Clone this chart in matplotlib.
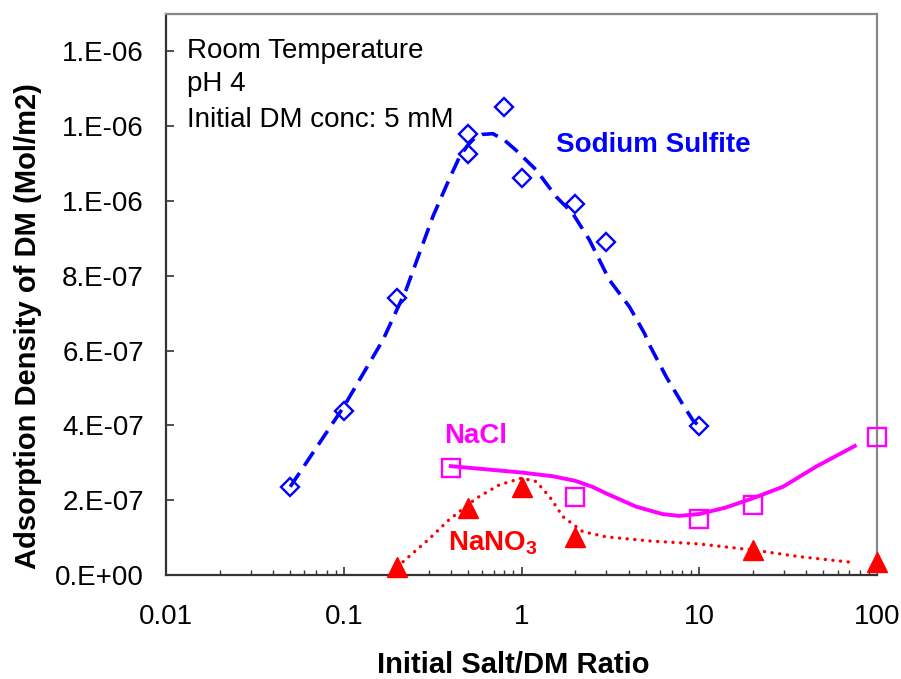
import matplotlib
matplotlib.use('Agg')
import matplotlib.pyplot as plt
import numpy as np
from matplotlib.ticker import FixedLocator, NullFormatter, LogLocator

plt.rcParams['font.family'] = ['Liberation Sans', 'DejaVu Sans']
plt.rcParams['mathtext.fontset'] = 'custom'
plt.rcParams['mathtext.rm'] = 'Liberation Sans'
plt.rcParams['mathtext.bf'] = 'Liberation Sans:bold'

# measured points
sulfite_x = [0.05, 0.1, 0.2, 0.5, 0.5, 0.8, 1, 2, 3, 10]
sulfite_y = [0.236e-6, 0.439e-6, 0.741e-6, 1.178e-6, 1.126e-6, 1.252e-6,
             1.062e-6, 0.992e-6, 0.890e-6, 0.398e-6]
nacl_x = [0.4, 2, 10, 20, 100]
nacl_y = [0.286e-6, 0.209e-6, 0.149e-6, 0.187e-6, 0.368e-6]
nano3_x = [0.2, 0.5, 1, 2, 20, 100]
nano3_y = [0.022e-6, 0.179e-6, 0.236e-6, 0.102e-6, 0.067e-6, 0.036e-6]

# trend lines
sulfite_fit_x = [0.05, 0.1, 0.166, 0.224, 0.317, 0.39, 0.448, 0.5, 0.544,
                 0.6, 0.69, 0.8, 0.93, 1.21, 1.57, 1.94, 2.41, 3.12, 4.05,
                 4.92, 5.25, 6.52, 8.1, 9.2, 10]
sulfite_fit_y = [0.236e-6, 0.45e-6, 0.628e-6, 0.762e-6, 0.958e-6, 1.056e-6,
                 1.118e-6, 1.150e-6, 1.168e-6, 1.178e-6, 1.180e-6, 1.163e-6,
                 1.136e-6, 1.083e-6, 1.011e-6, 0.967e-6, 0.896e-6, 0.789e-6,
                 0.717e-6, 0.646e-6, 0.615e-6, 0.530e-6, 0.455e-6, 0.414e-6,
                 0.398e-6]
nacl_fit_x = [0.4, 1, 1.5, 2, 2.5, 3, 4.4, 6.2, 7.7, 10, 14, 20, 29.6,
              45.5, 75]
nacl_fit_y = [0.291e-6, 0.274e-6, 0.264e-6, 0.252e-6, 0.236e-6, 0.218e-6,
              0.183e-6, 0.163e-6, 0.158e-6, 0.163e-6, 0.180e-6, 0.205e-6,
              0.236e-6, 0.290e-6, 0.345e-6]
nano3_fit_x = [0.2, 0.3, 0.39, 0.556, 0.75, 1, 1.21, 1.44, 1.71, 2.21, 3,
               5.25, 10, 20, 36.7, 75]
nano3_fit_y = [0.022e-6, 0.095e-6, 0.147e-6, 0.205e-6, 0.241e-6, 0.259e-6,
               0.250e-6, 0.209e-6, 0.156e-6, 0.116e-6, 0.102e-6, 0.091e-6,
               0.083e-6, 0.067e-6, 0.049e-6, 0.033e-6]

yticks = [0, 0.2e-6, 0.4e-6, 0.6e-6, 0.8e-6, 1.0e-6, 1.2e-6, 1.4e-6]
ytick_labels = ['0.E+00', '2.E-07', '4.E-07', '6.E-07', '8.E-07',
                '1.E-06', '1.E-06', '1.E-06']
xticks = [0.01, 0.1, 1, 10, 100]
xtick_labels = ['0.01', '0.1', '1', '10', '100']

W, H = 901, 679
fig = plt.figure(figsize=(W/100., H/100.), dpi=100)
ax = fig.add_axes([166./W, 1-575./H, (877.-166.)/W, (575.-14.)/H])

blue = '#0000FF'
mag = '#FF00FF'
red = '#FF0000'

ax.plot(sulfite_fit_x, sulfite_fit_y, color=blue, lw=2.6,
        linestyle=(0, (4.6, 2.4)), zorder=2)
ax.plot(nacl_fit_x, nacl_fit_y, color=mag, lw=2.8, zorder=2)
ax.plot(nano3_fit_x, nano3_fit_y, color=red, lw=2.4,
        linestyle=(0, (0.05, 2.25)), dash_capstyle='round', zorder=2)

ax.plot(sulfite_x, sulfite_y, 'D', ms=9.5, mfc='none', mec=blue, mew=1.7,
        zorder=3, clip_on=False)
ax.plot(nacl_x, nacl_y, 's', ms=13, mfc='none', mec=mag, mew=1.7, zorder=3,
        clip_on=False)
ax.plot(nano3_x, nano3_y, '^', ms=14, color=red, zorder=3, clip_on=False)

ax.set_xscale('log')
ax.set_xlim(0.01, 100)
ax.set_ylim(0, 1.5e-6)
ax.xaxis.set_major_locator(FixedLocator(xticks))
ax.set_xticklabels(xtick_labels)
ax.xaxis.set_minor_locator(LogLocator(base=10, subs=np.arange(2, 10)))
ax.xaxis.set_minor_formatter(NullFormatter())
ax.yaxis.set_major_locator(FixedLocator(yticks))
ax.set_yticklabels(ytick_labels)

ax.tick_params(axis='both', which='major', direction='in', length=6,
               width=1.2, color='#333333', labelsize=20)
ax.tick_params(axis='x', which='minor', direction='in', length=3.6,
               width=1.0, color='#333333')
ax.tick_params(axis='x', which='major', pad=21)
ax.tick_params(axis='y', which='major', pad=16)

for s in ['left', 'bottom']:
    ax.spines[s].set_color('#333333')
    ax.spines[s].set_linewidth(1.6)
for s in ['top', 'right']:
    ax.spines[s].set_color('#888888')
    ax.spines[s].set_linewidth(1.6)

fig.text(28./W, 1-326./H, 'Adsorption Density of DM (Mol/m2)', rotation=90,
         ha='center', va='center', fontsize=21, fontweight='bold')
fig.text(513./W, 1-665./H, 'Initial Salt/DM Ratio', ha='center',
         va='center', fontsize=21, fontweight='bold')

fig.text(187./W, 1-58./H, 'Room Temperature', fontsize=20, va='baseline')
fig.text(187./W, 1-91./H, 'pH 4', fontsize=20, va='baseline')
fig.text(187./W, 1-127./H, 'Initial DM conc: 5 mM', fontsize=20,
         va='baseline')

fig.text(556./W, 1-152./H, 'Sodium Sulfite', fontsize=20, fontweight='bold',
         color=blue, va='baseline')
fig.text(444./W, 1-443./H, 'NaCl', fontsize=20, fontweight='bold',
         color=mag, va='baseline')
fig.text(448./W, 1-550./H, r'NaNO$_\mathbf{3}$', fontsize=20,
         fontweight='bold', color=red, va='baseline')

fig.savefig('out.png', dpi=100)
